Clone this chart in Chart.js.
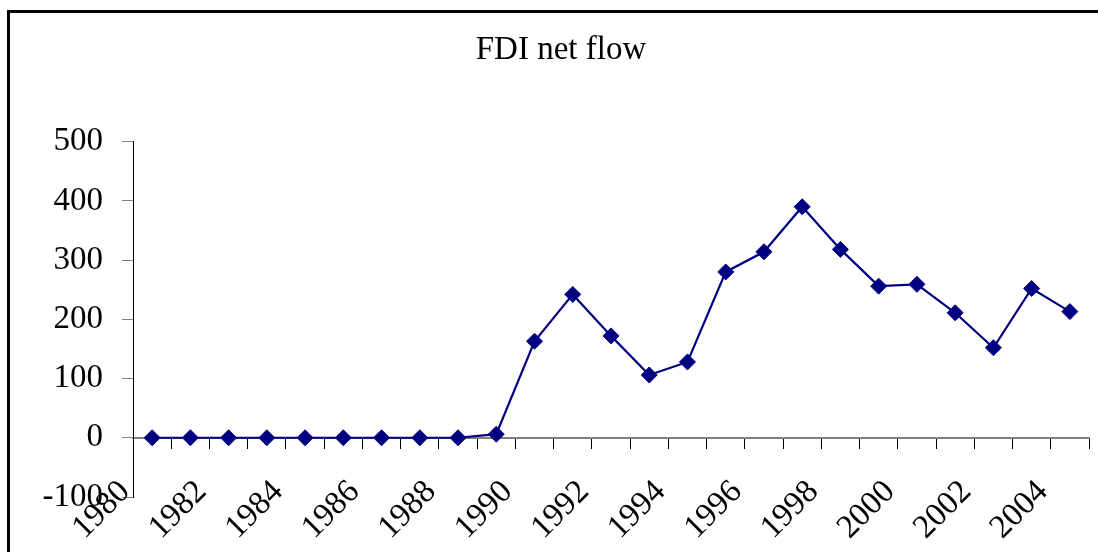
<!DOCTYPE html>
<html>
<head>
<meta charset="utf-8">
<script src="https://cdn.jsdelivr.net/npm/chart.js@4/dist/chart.umd.min.js"></script>
<style>
    html, body { margin: 0; padding: 0; background: #fff; overflow: hidden; }
    #wrap { position: relative; width: 1098px; height: 552px; }
    #frame {
        position: absolute; left: 7px; top: 10px; width: 1200px; height: 700px;
        border-left: 3px solid #000; border-top: 3px solid #000;
    }
    #chart { position: absolute; left: 0; top: 0; }
</style>
</head>
<body>
<div id="wrap">
    <div id="frame"></div>
    <canvas id="chart" width="1098" height="552"></canvas>
</div>
<script>
"use strict"

// years on the x axis
const years = ["1980", "1981", "1982", "1983", "1984", "1985", "1986", "1987", "1988", "1989",
    "1990", "1991", "1992", "1993", "1994", "1995", "1996", "1997", "1998", "1999",
    "2000", "2001", "2002", "2003", "2004"]

// FDI net flow values
const fdiNetFlow = [0, 0, 0, 0, 0, 0, 0, 0, 0, 6,
    163, 242, 172, 106, 128, 280, 314, 390, 318, 256,
    259, 211, 152, 252, 213]

// y axis range
const yMin = -100
const yMax = 500
const yStep = 100

const serif = "'Liberation Serif', 'Times New Roman', serif"
const navy = "#000080"

const ctx = document.getElementById("chart").getContext("2d")
const myChart = new Chart(ctx, {
    type: "line",
    data: {
        labels: years,
        datasets: [{
            label: "FDI net flow",
            data: fdiNetFlow,
            borderColor: navy,
            backgroundColor: navy,
            borderWidth: 2.2,
            tension: 0,
            pointStyle: "rectRot",
            pointRadius: 8,
            pointBorderWidth: 1,
            pointBackgroundColor: navy,
            pointBorderColor: navy
        }]
    },
    options: {
        responsive: false,
        animation: false,
        devicePixelRatio: 1,
        layout: {
            padding: { left: 32, right: 8, top: 0, bottom: 55 }
        },
        scales: {
            x: {
                position: { y: 0 },
                offset: true,
                afterFit: (scale) => { scale.paddingLeft = 0; scale.paddingRight = 0 },
                grid: {
                    offset: true,
                    drawOnChartArea: false,
                    drawTicks: true,
                    tickLength: 10,
                    tickColor: "#000",
                    tickWidth: 1
                },
                border: { color: "#808080", width: 2 },
                ticks: {
                    autoSkip: false,
                    minRotation: 45,
                    maxRotation: 45,
                    padding: 25,
                    labelOffset: -27,
                    color: "#000",
                    font: { family: serif, size: 33 },
                    callback: function (val, idx) {
                        return idx % 2 === 0 ? this.getLabelForValue(val) : ""
                    }
                }
            },
            y: {
                min: yMin,
                max: yMax,
                afterFit: (scale) => { scale.width = 101 },
                grid: {
                    drawOnChartArea: false,
                    drawTicks: true,
                    tickLength: 11,
                    tickColor: "#808080"
                },
                border: { color: "#000", width: 1 },
                ticks: {
                    stepSize: yStep,
                    padding: 19,
                    color: "#000",
                    font: { family: serif, size: 33 }
                }
            }
        },
        plugins: {
            legend: { display: false },
            tooltip: { enabled: false },
            title: {
                display: true,
                text: "FDI net flow",
                color: "#000",
                padding: { top: 31, bottom: 71 },
                font: { family: serif, size: 33, weight: "normal" }
            }
        }
    }
})
</script>
</body>
</html>
